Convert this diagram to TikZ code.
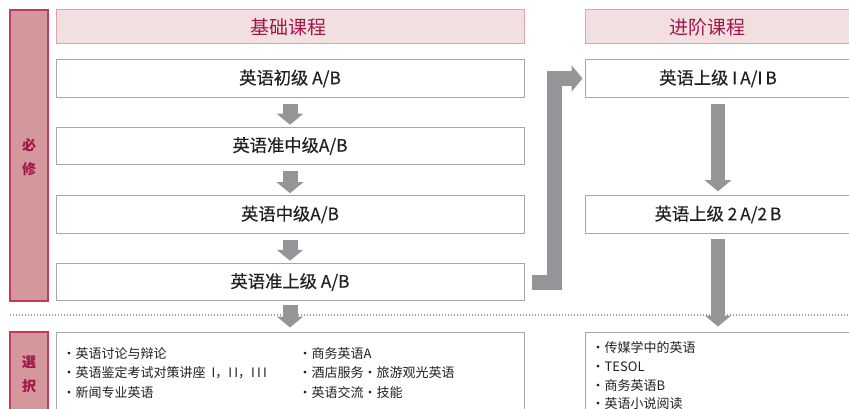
\documentclass[tikz,border=0pt]{standalone}
\usepackage{fontspec}
\setmainfont{Noto Sans CJK SC}
\newfontfamily\jpfont{Noto Sans CJK JP}
\newfontfamily\medfont[FakeBold=0.35]{Noto Sans CJK SC}
\usetikzlibrary{arrows.meta}
\definecolor{crim}{HTML}{A3154B}
\definecolor{sidefill}{HTML}{D3979C}
\definecolor{sideline}{HTML}{C23A62}
\definecolor{headfill}{HTML}{F2E0E1}
\definecolor{headline}{HTML}{E0A3AB}
\definecolor{boxline}{HTML}{A6A6A6}
\definecolor{arrowgray}{HTML}{939598}
\definecolor{txt}{HTML}{231F20}
\begin{document}
\begin{tikzpicture}[x=1pt,y=-1pt,
  sidebar/.style={draw=sideline, fill=sidefill, line width=1.2pt, rectangle, minimum width=38pt, inner sep=0pt},
  sidetext/.style={text=crim, font=\fontsize{14}{24}\selectfont\bfseries, align=center, inner sep=0pt},
  headbox/.style={draw=headline, fill=headfill, line width=1pt, rectangle, minimum height=34pt, inner sep=0pt},
  headtext/.style={text=crim, font=\fontsize{19}{22}\selectfont, inner sep=0pt},
  course/.style={draw=boxline, fill=white, line width=1pt, rectangle, minimum height=37.5pt, inner sep=0pt, font=\fontsize{17.3}{20}\selectfont\medfont, text=txt},
  listbox/.style={draw=boxline, fill=white, line width=1pt, rectangle, minimum height=90pt, inner sep=0pt},
  item/.style={anchor=base west, inner sep=0pt, text=txt, font=\fontsize{13}{15}\selectfont},
  bigarrow/.style={draw=arrowgray, line width=15pt, line join=miter, -{Triangle[width=26pt,length=11pt]}},
  dotline/.style={draw=gray!80, line width=1.2pt, dash pattern=on 1.2pt off 1.8pt}
]
\useasboundingbox (0,0) rectangle (849,409);
% side bars
\node[sidebar, minimum height=291pt] (s1) at (29,155.5) {};
\node[sidetext] (s1t) at (29,157) {必\\修};
\node[sidebar, minimum height=90pt] (s2) at (29,377) {};
\node[sidetext, font=\fontsize{14}{24}\selectfont\bfseries\jpfont] (s2t) at (29,374) {選\\択};
% headers
\node[headbox, minimum width=468pt] (h1) at (290,27) {};
\node[headtext] (h1t) at (288,27) {基础课程};
\node[headbox, minimum width=266pt] (h2) at (718,27) {};
\node[headtext] (h2t) at (707.5,27) {进阶课程};
% left courses
\node[course, minimum width=468pt] (b1) at (290,78.5) {英语初级 A/B};
\node[course, minimum width=468pt] (b2) at (290,146) {英语准中级A/B};
\node[course, minimum width=468pt] (b3) at (290,214.5) {英语中级A/B};
\node[course, minimum width=468pt] (b4) at (290,282) {英语准上级 A/B};
% right courses
\node[course, minimum width=266pt] (r1) at (718,78.5) {英语上级 I\,A/I\,B};
\node[course, minimum width=266pt] (r2) at (718,214.5) {英语上级 2\,A/2\,B};
% list boxes
\node[listbox, minimum width=468pt] (l1) at (290,377) {};
\node[listbox, minimum width=266pt] (l2) at (718,377) {};
% arrows
\draw[bigarrow, shorten <=6pt, shorten >=2pt] (b1) -- (b2);
\draw[bigarrow, shorten <=6pt, shorten >=2pt] (b2) -- (b3);
\draw[bigarrow, shorten <=6pt, shorten >=2pt] (b3) -- (b4);
\draw[bigarrow, shorten <=4pt, shorten >=4pt] (b4) -- (l1.north -| b4);
\draw[bigarrow, line width=14pt, shorten <=6pt, shorten >=4pt] (r1) -- (r2);
\draw[bigarrow, line width=14pt, shorten <=5pt, shorten >=5pt] (r2) -- (l2.north -| r2);
\coordinate (lx) at (554.5,0);
\draw[bigarrow, shorten <=7pt, shorten >=2pt] (b4.east) -- (b4.east -| lx) |- (r1.west);
% dotted separator
\coordinate (dl) at (10,315);
\coordinate (dr) at (849,315);
\draw[dotline] (dl) -- (dr);
% list items
\node[item] (i1) at (62.5,358) {・英语讨论与辩论};
\node[item] (i2) at (62.5,377.5) {・英语鉴定考试对策讲座\ \ I，I\,I，I\,I\,I};
\node[item] (i3) at (62.5,397) {・新闻专业英语};
\node[item] (i4) at (298.5,358) {・商务英语A};
\node[item] (i5) at (298.5,377.5) {・酒店服务・旅游观光英语};
\node[item] (i6) at (298.5,397) {・英语交流・技能};
\node[item] (j1) at (591.5,352) {・传媒学中的英语};
\node[item] (j2) at (591.5,371) {・TESOL};
\node[item] (j3) at (591.5,390) {・商务英语B};
\node[item] (j4) at (591.5,408.5) {・英语小说阅读};
\end{tikzpicture}
\end{document}
